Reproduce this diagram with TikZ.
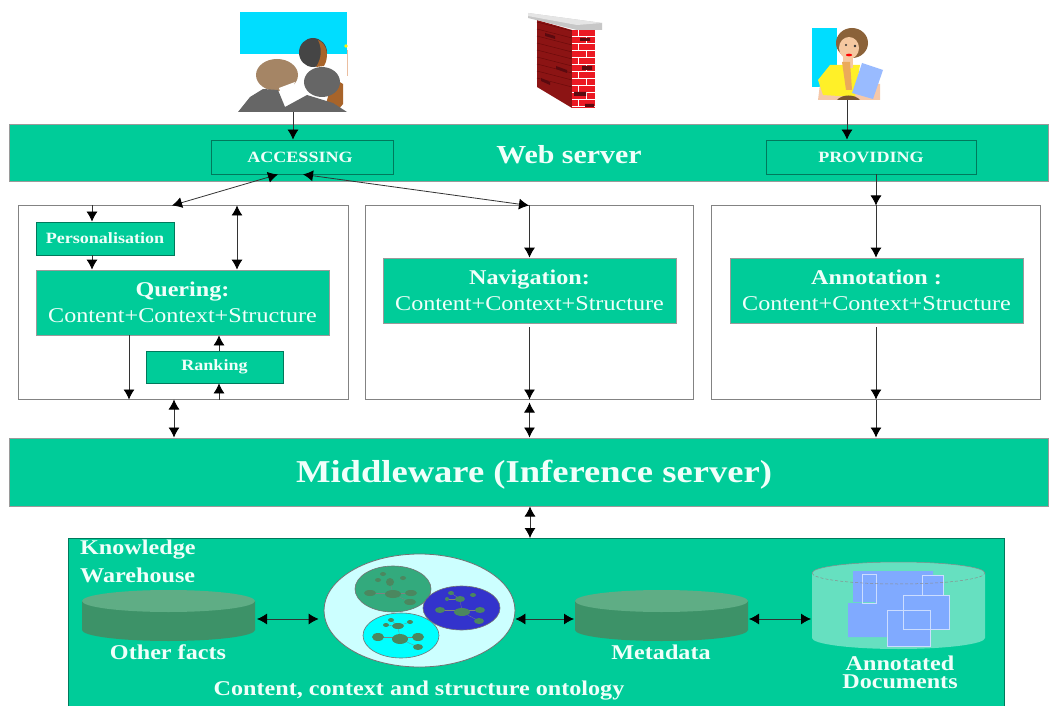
\documentclass[tikz,border=0pt]{standalone}
\usepackage{fontspec}
\setmainfont{Liberation Serif}
\newfontfamily\widefont[FakeStretch=1.15]{Liberation Serif}
\usetikzlibrary{arrows.meta,shapes.geometric}
\definecolor{teal1}{HTML}{00CC99}
\definecolor{txt}{HTML}{F0FFFA}
\definecolor{edge}{HTML}{9A9A9A}
\definecolor{dk}{HTML}{00795C}
\definecolor{cylside}{HTML}{3D9268}
\definecolor{cyltop}{HTML}{5FAD85}
\definecolor{docside}{HTML}{66E0C0}
\definecolor{docblue}{HTML}{80AAFF}
\definecolor{line1}{HTML}{333333}
\definecolor{sky}{HTML}{00DDFF}
\definecolor{peach}{HTML}{EBBEA0}
\definecolor{skinb}{HTML}{A8642A}
\definecolor{hairb}{HTML}{A58565}
\definecolor{wallD}{HTML}{8C1414}
\definecolor{wallL}{HTML}{6A0A0A}
\definecolor{wallR}{HTML}{EB1923}
\definecolor{wallK}{HTML}{5A0A0F}
\definecolor{skinw}{HTML}{F5C8AA}
\definecolor{shirt}{HTML}{FFF028}
\definecolor{brownw}{HTML}{785532}
\definecolor{hairw}{HTML}{8B6239}
\definecolor{facew}{HTML}{F5C8A0}
\definecolor{orangew}{HTML}{EBAA5A}
\definecolor{paperw}{HTML}{99BBFF}
\definecolor{lcyan}{HTML}{CCFFFF}
\definecolor{ogreen}{HTML}{33AA7D}
\definecolor{oblue}{HTML}{3333CC}
\definecolor{ocyan}{HTML}{00FFFF}
\definecolor{innerov}{HTML}{4B875F}
\tikzset{
  bar/.style={draw=edge,line width=1pt,fill=teal1,text=txt,inner sep=0pt,anchor=center},
  inbox/.style={draw=dk,line width=.8pt,fill=teal1,text=txt,inner sep=0pt,align=center,font=\widefont\bfseries\fontsize{15.7}{18}\selectfont},
  bigbox/.style={draw=edge,line width=.8pt,fill=teal1,text=txt,inner sep=0pt,align=center,minimum width=293pt,minimum height=65pt,font=\widefont\fontsize{21}{26}\selectfont},
  frame/.style={draw=edge!85!black,line width=1pt,fill=white,inner sep=0pt},
  ghost/.style={inner sep=0pt,outer sep=0pt},
  conn/.style={draw=line1,line width=.8pt,-{Latex[length=10pt,width=11pt,color=black]}},
  conn2/.style={draw=line1,line width=.8pt,{Latex[length=10pt,width=11pt,color=black]}-{Latex[length=10pt,width=11pt,color=black]}},
  lab/.style={text=txt,font=\widefont\bfseries\fontsize{21}{18}\selectfont,inner sep=0pt}
}
\newcommand{\cyl}[7]{% cx top rx ry h side top
  \fill[#6] (#1-#3,#2) -- (#1-#3,#2+#5) arc[start angle=180,end angle=0,x radius=#3,y radius=#4] -- (#1+#3,#2) -- cycle;
  \fill[#7] (#1,#2) ellipse[x radius=#3,y radius=#4];
}
\begin{document}
\begin{tikzpicture}[x=1pt,y=-1pt]
\useasboundingbox (0,0) rectangle (1053,706);
\fill[white] (0,0) rectangle (1053,706);
% --- people picture
\fill[sky] (240,12) rectangle (347,54);
\draw[line width=1pt,color=peach] (347,50) -- (347,76);
\fill[yellow] (346,46) circle (1.8);
\fill[black!73] (313,52.5) ellipse[x radius=14,y radius=14.5];
\fill[skinb] (318,40) .. controls (328,44) and (329,58) .. (324,66) -- (316,67) .. controls (322,58) and (322,48) .. (318,40) -- cycle;
\fill[hairb] (277,75) ellipse[x radius=21,y radius=16];
\fill[white] (279,88) -- (295,82) -- (288,102) -- (282,98) -- cycle;
\fill[skinb] (333,78) -- (343,84) -- (343,104) -- (338,110) -- (326,104) -- cycle;
\fill[black!60] (322,82) ellipse[x radius=18,y radius=15];
\fill[black!60] (238,112) -- (250,97) -- (263,89) -- (278,90) -- (285,107) -- (307,95) -- (333,103) -- (347,112) -- cycle;
% --- brick wall
\fill[wallD] (537,20) -- (572,30) -- (572,108) -- (537,87) -- cycle;
\foreach \yy in {30,37,...,86}{
  \draw[wallL,line width=.5pt] (537,\yy-8) -- (572,\yy+1);
}
\fill[wallK] (545,33) -- (555,36) -- (555,39) -- (545,36) -- cycle (556,66) -- (567,70) -- (567,73) -- (556,69) -- cycle (541,78) -- (550,82) -- (550,85) -- (541,81) -- cycle;
\fill[wallR] (572,30) rectangle (595,108);
\foreach \yy in {37,44,...,107}{
  \draw[white,line width=1pt] (572,\yy) -- (595,\yy);
}
\foreach \yy/\xx in {30/578,37/586,44/578,51/586,58/578,65/586,72/578,79/586,86/578,93/586,100/578}{
  \draw[white,line width=1pt] (\xx,\yy) -- (\xx,\yy+7);
}
\fill[wallK] (580,38) rectangle (590,41) (582,66) rectangle (592,70) (574,92) rectangle (586,96) (585,104) rectangle (594,107);
\fill[black!22] (528,13) -- (602,23) -- (602,30) -- (577,30) -- (528,18) -- cycle;
\fill[black!10] (528,13) -- (602,23) -- (577,25) -- (528,16) -- cycle;
% --- woman picture
\fill[sky] (812,28) rectangle (837,87);
\fill[skinw] (818,100) -- (820,84) -- (880,84) -- (880,100) -- cycle;
\fill[shirt] (818,80) -- (830,65) -- (860,65) -- (855,97) -- (823,95) -- cycle;
\fill[brownw] (837,100) .. controls (842,94) and (855,94) .. (860,100) -- cycle;
\fill[hairw] (852,43) ellipse[x radius=16,y radius=15];
\fill[facew] (849,48) ellipse[x radius=10,y radius=11];
\fill[facew] (843,56) rectangle (853,68);
\fill[orangew] (842,62) -- (850,62) -- (852,90) -- (846,90) -- cycle;
\fill[red] (849,55) ellipse[x radius=3,y radius=1.3];
\fill[black!80] (846,45) circle (1.2) (855,46) circle (1.4);
\fill[paperw] (862,63) -- (883,70) -- (873,99) -- (852,93) -- cycle;
\coordinate (peoplefoot) at (293,112);
\coordinate (womanfoot) at (847,100);
% --- bars
\node[bar,minimum width=1039pt,minimum height=57pt] (web) at (528.5,153.5) {};
\node[inbox,minimum width=182pt,minimum height=34pt] (acc) at (302,157) {ACCESSING\hspace*{4pt}};
\node[inbox,minimum width=210pt,minimum height=34pt] (prov) at (871,157) {PROVIDING};
\node[lab,font=\widefont\bfseries\fontsize{26}{26}\selectfont] (webt) at (569,155) {Web server};
\node[bar,minimum width=1039pt,minimum height=68pt] (mid) at (528.5,472) {};
\node[lab,font=\widefont\bfseries\fontsize{31.8}{32}\selectfont] (midt) at (534,475) {Middleware (Inference server)};
% --- frames
\node[frame,minimum width=330pt,minimum height=193pt] (fa) at (183,302.5) {};
\node[frame,minimum width=328pt,minimum height=193pt] (fb) at (529,302.5) {};
\node[frame,minimum width=329pt,minimum height=193pt] (fc) at (875.5,302.5) {};
\node[inbox,minimum width=138pt,minimum height=33pt] (pers) at (105,238.5) {Personalisation};
\node[bigbox] (quer) at (182.5,302.5) {{\bfseries Quering:}\\Content+Context+Structure};
\node[inbox,minimum width=137pt,minimum height=32pt] (rank) at (214.5,367) {Ranking};
\node[bigbox] (nav) at (529.5,290.5) {{\bfseries Navigation:}\\Content+Context+Structure};
\node[bigbox] (ann) at (876.5,290.5) {{\bfseries Annotation :}\\Content+Context+Structure};
% --- warehouse
\fill[teal1,draw=dk,line width=1pt] (68,538) -- (1004,538) -- (1004,706) -- (68,706) -- cycle;
\node[ghost,minimum width=936pt,minimum height=168pt] (ware) at (536,622) {};
\node[lab,anchor=west] (kw1) at (80,550) {Knowledge};
\node[lab,anchor=west] (kw2) at (80,575) {Warehouse};
\cyl{168.5}{601}{86.5}{11}{29}{cylside}{cyltop}
\cyl{661.5}{601}{86.5}{11}{29}{cylside}{cyltop}
\node[ghost,minimum width=173pt,minimum height=40pt] (other) at (168.5,619) {};
\node[ghost,minimum width=173pt,minimum height=40pt] (meta) at (661.5,619) {};
\node[lab] (otherl) at (168,652) {Other facts};
\node[lab] (metal) at (661,652) {Metadata};
% documents cylinder
\cyl{898.5}{573}{86.5}{11}{65}{docside}{docside}
\fill[docblue] (853,571) rectangle (933,602) (848,603) rectangle (887,637) (887,610) rectangle (930,646) (903,595) rectangle (949,629) (922,575) rectangle (943,595) (875,585) rectangle (905,612);
\draw[white!60!docblue,line width=.4pt] (862,574) rectangle (876,603) (922,575) rectangle (943,595) (903,595) rectangle (949,629) (887,610) rectangle (930,646);
\draw[black!45,line width=.5pt,densely dashed] (812,573) arc[start angle=180,end angle=0,x radius=86.5,y radius=11];
\draw[black!45,line width=.5pt] (812,573) arc[start angle=180,end angle=360,x radius=86.5,y radius=11];
\node[ghost,minimum width=173pt,minimum height=76pt] (docs) at (898.5,619) {};
\node[lab,align=center] (docl) at (900,672) {Annotated\\Documents};
% ontology
\node[ellipse,draw=black!55,line width=.8pt,fill=lcyan,minimum width=191pt,minimum height=113pt,inner sep=0pt] (onto) at (419.5,610.5) {};
\draw[black!55,line width=.6pt,fill=ogreen] (393,589) ellipse[x radius=38,y radius=23];
\draw[black!55,line width=.6pt,fill=oblue] (461.5,608) ellipse[x radius=38.5,y radius=22];
\draw[black!55,line width=.6pt,fill=ocyan] (401,635.5) ellipse[x radius=38,y radius=22.5];
\foreach \xa/\ya/\xb/\yb in {370/593/411/593,393/594/410/602,390/582/393/594,440/610/480/610,462/612/479/621,460/599/462/612,447/599/460/599,451/593/460/599,378/637/418/637,400/639/418/647,398/626/400/639,386/625/398/626,391/620/398/626,410/622/398/626}{
  \draw[black!50,line width=.3pt] (\xa,\ya) -- (\xb,\yb);
}
\foreach \xx/\yy/\rx/\ry in {370/593/6/3,393/594/8/4,411/593/6/3,410/602/6/3,390/582/4/4,378/580/3/2,383/574/3/2,403/578/3/2,
  440/610/5/3,462/612/8/4,480/610/5/3,479/621/5/3,460/599/5/3,447/599/2/2,451/593/3/2,473/595/3/2,
  378/637/6/4,400/639/8/5,418/637/6/4,418/647/5/3,398/626/6/3,386/625/3/2,391/620/3/2,410/622/3/2}{
  \fill[innerov] (\xx,\yy) ellipse[x radius=\rx,y radius=\ry];
}
\node[lab] (ontol) at (419,691) {Content, context and structure ontology};
% --- connectors
\draw[conn] (peoplefoot) -- (acc.north -| peoplefoot);
\draw[conn] (womanfoot) -- (prov.north -| womanfoot);
\coordinate (accl) at ([xshift=-24pt]acc.south);
\coordinate (accr) at ([xshift=1pt]acc.south);
\coordinate (fal) at ([xshift=-11pt]fa.north);
\coordinate (fbt) at (fb.north);
\draw[conn2] (accl) -- (fal);
\draw[conn2] (accr) -- (fbt);
\coordinate (pa) at ([xshift=-13pt]pers.north);
\draw[conn] (pa |- fa.north) -- (pa);
\draw[conn] ([xshift=-13pt]pers.south) -- (pa |- quer.north);
\coordinate (qr) at ([xshift=54.5pt]quer.north);
\draw[conn2] (qr |- fa.north) -- (qr);
\coordinate (qb) at ([xshift=-53.5pt]quer.south);
\draw[conn] (qb) -- (qb |- fa.south);
\coordinate (rx) at (219,0);
\draw[conn] (rx |- rank.north) -- (rx |- quer.south);
\draw[conn] (rx |- fa.south) -- (rx |- rank.south);
\coordinate (q1) at ([xshift=-9pt]fa.south);
\draw[conn2] (q1) -- (q1 |- mid.north);
\draw[conn] (nav.north |- fb.north) -- (nav.north);
\draw[conn] ([yshift=-4pt]nav.south) -- (nav.south |- fb.south);
\coordinate (nb) at (nav.south |- fb.south);
\draw[conn2] ([yshift=-3pt]nb) -- (nb |- mid.north);
\coordinate (pv) at ([xshift=5pt]prov.south);
\draw[conn] (pv) -- (pv |- fc.north);
\draw[conn] (pv |- fc.north) -- (pv |- ann.north);
\draw[conn] ([yshift=-4pt]pv |- ann.south) -- (pv |- fc.south);
\draw[conn] (pv |- fc.south) -- (pv |- mid.north);
\coordinate (mw) at (530,0);
\draw[conn2] (mw |- mid.south) -- (mw |- ware.north);
\draw[conn2] ([xshift=2pt]other.east) -- ([yshift=-8.5pt,xshift=-5pt]onto.west);
\draw[conn2] ([yshift=-8.5pt]onto.east) -- ([xshift=-1pt]meta.west);
\draw[conn2] ([xshift=1pt]meta.east) -- ([xshift=-1pt]docs.west);
\end{tikzpicture}
\end{document}
